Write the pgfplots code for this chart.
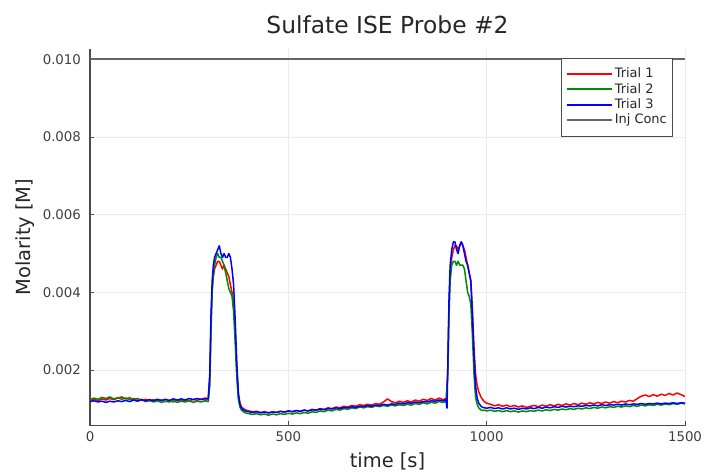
\documentclass[border=0pt]{standalone}
\usepackage{pgfplots}
\pgfplotsset{compat=1.18}
\usepackage{fontspec}
\setmainfont{DejaVu Sans}
\definecolor{jred}{rgb}{1,0,0}
\definecolor{jgreen}{rgb}{0,0.55,0}
\definecolor{jblue}{rgb}{0,0,1}
\begin{document}
\begin{tikzpicture}
\useasboundingbox (0,0) rectangle (705bp,473bp);
\begin{axis}[
  at={(90bp,47.5bp)}, anchor=south west,
  scale only axis, width=595bp, height=377bp,
  xmin=0, xmax=1500, ymin=0.000575, ymax=0.010275,
  scaled y ticks=false, scaled x ticks=false,
  axis x line*=bottom, axis y line*=left,
  axis line style={-, draw=black!70, line width=1.2bp},
  xtick={0,500,1000,1500},
  ytick={0.002,0.004,0.006,0.008,0.010},
  yticklabels={0.002,0.004,0.006,0.008,0.010},
  xticklabels={0,500,1000,1500},
  tick align=inside, major tick length=4bp,
  tick style={draw=black!70, line width=0.8bp},
  grid=major, major grid style={draw=black!8, line width=0.8bp},
  /pgf/number format/assume math mode=true,
  tick label style={font=\fontsize{13.4}{15}\selectfont, text=black!75},
  yticklabel style={xshift=-5.5bp},
  xticklabel style={yshift=-3bp},
  title={Sulfate ISE Probe \#2},
  title style={at={(axis description cs:0.5,1)}, anchor=base, yshift=9bp,
    font=\fontsize{23.5}{26}\selectfont, text=black!85},
  xlabel={time [s]}, ylabel={Molarity [M]},
  label style={font=\fontsize{19.5}{22}\selectfont, text=black!85},
  xlabel style={at={(axis description cs:0.5,0)}, anchor=base, yshift=-42bp},
  ylabel style={at={(axis description cs:-0.1008,0.5)}, anchor=base, rotate=0},
  legend style={at={(axis description cs:0.9798,0.9748)}, anchor=north east,
    draw=black!70, line width=0.9bp,
    font=\fontsize{13}{15}\selectfont\color{black!85}, inner xsep=4.5bp, inner ysep=8bp,
    nodes={inner sep=1.2bp, text height=10bp, text depth=3bp},
    row sep=0bp, column sep=1bp},
  legend cell align=left,
  legend image code/.code={\draw[line width=2bp, #1] (0bp,0.3bp) -- (45bp,0.3bp);},
  every axis plot/.append style={line width=1.5bp, line join=round},
]
\addplot[jred] coordinates {
(0,0.00122)(10,0.00125)(20,0.00121)(30,0.00126)(40,0.00123)(50,0.00127)(60,0.00124)(70,0.00128)(80,0.00131)(90,0.00126)
(100,0.00129)(110,0.00124)(120,0.00127)(130,0.00122)(140,0.00125)(150,0.00121)(160,0.00124)(170,0.00120)(180,0.00123)(190,0.00119)
(200,0.00122)(210,0.00118)(220,0.00123)(230,0.00120)(240,0.00124)(250,0.00121)(260,0.00125)(270,0.00122)(280,0.00126)(290,0.00123)(298,0.00125)
(302,0.00180)(305,0.0032)(308,0.0041)(311,0.0044)(314,0.0046)(318,0.0047)(322,0.0048)(326,0.0048)(330,0.0047)(334,0.0046)(338,0.0047)
(342,0.0046)(346,0.0045)(350,0.0044)(354,0.0042)(358,0.0040)(362,0.0037)(366,0.0030)(370,0.0021)(374,0.0014)(378,0.00115)(382,0.00105)(388,0.00100)(394,0.00097)
(400,0.00095)(410,0.00093)(420,0.00094)(430,0.00091)(440,0.00093)(450,0.00090)(460,0.00093)(470,0.00091)(480,0.00094)(490,0.00092)
(500,0.00095)(510,0.00093)(520,0.00096)(530,0.00094)(540,0.00097)(550,0.00095)(560,0.00099)(570,0.00097)(580,0.00101)(590,0.00099)
(600,0.00103)(610,0.00101)(620,0.00105)(630,0.00103)(640,0.00107)(650,0.00105)(660,0.00109)(670,0.00107)(680,0.00111)(690,0.00109)
(700,0.00112)(710,0.00110)(720,0.00114)(730,0.00112)(740,0.00118)(750,0.00126)(760,0.00119)(770,0.00116)(780,0.00120)(790,0.00117)
(800,0.00121)(810,0.00118)(820,0.00123)(830,0.00120)(840,0.00125)(850,0.00122)(860,0.00127)(870,0.00123)(880,0.00128)(890,0.00124)(898,0.00127)
(902,0.0020)(905,0.0036)(908,0.0045)(912,0.0049)(916,0.0051)(920,0.0052)(924,0.0052)(928,0.0051)(932,0.0052)(936,0.0053)(940,0.0052)
(944,0.0051)(948,0.0049)(952,0.0047)(956,0.0045)(960,0.0043)(964,0.0036)(968,0.0026)(972,0.0019)(976,0.0016)(980,0.00145)(985,0.00132)(990,0.00124)(995,0.00118)
(1000,0.00115)(1010,0.00112)(1020,0.00108)(1030,0.00111)(1040,0.00107)(1050,0.00110)(1060,0.00106)(1070,0.00109)(1080,0.00105)(1090,0.00108)
(1100,0.00104)(1110,0.00107)(1120,0.00109)(1130,0.00106)(1140,0.00110)(1150,0.00107)(1160,0.00111)(1170,0.00108)(1180,0.00112)(1190,0.00109)
(1200,0.00113)(1210,0.00110)(1220,0.00114)(1230,0.00111)(1240,0.00115)(1250,0.00112)(1260,0.00116)(1270,0.00113)(1280,0.00117)(1290,0.00114)
(1300,0.00118)(1310,0.00115)(1320,0.00119)(1330,0.00116)(1340,0.00120)(1350,0.00118)(1360,0.00122)(1370,0.00120)(1380,0.00127)(1390,0.00133)
(1400,0.00136)(1410,0.00132)(1420,0.00137)(1430,0.00133)(1440,0.00138)(1450,0.00135)(1460,0.00140)(1470,0.00136)(1480,0.00141)(1490,0.00137)(1500,0.00132)
};
\addlegendentry{Trial 1}
\addplot[jgreen] coordinates {
(0,0.00124)(10,0.00128)(20,0.00125)(30,0.00130)(40,0.00127)(50,0.00131)(60,0.00126)(70,0.00129)(80,0.00125)(90,0.00128)
(100,0.00124)(110,0.00127)(120,0.00122)(130,0.00125)(140,0.00119)(150,0.00122)(160,0.00118)(170,0.00121)(180,0.00117)(190,0.00120)
(200,0.00118)(210,0.00121)(220,0.00117)(230,0.00120)(240,0.00118)(250,0.00121)(260,0.00117)(270,0.00120)(280,0.00118)(290,0.00121)(298,0.00119)
(302,0.0016)(305,0.0030)(308,0.0040)(311,0.0045)(314,0.0047)(318,0.0049)(322,0.0050)(326,0.0049)(330,0.0049)(334,0.0048)(338,0.0047)
(342,0.0045)(346,0.0043)(350,0.0041)(354,0.0040)(358,0.0039)(362,0.0035)(366,0.0027)(370,0.0018)(374,0.00125)(378,0.00105)(382,0.00097)(388,0.00092)(394,0.00089)
(400,0.00088)(410,0.00086)(420,0.00088)(430,0.00085)(440,0.00087)(450,0.00084)(460,0.00087)(470,0.00085)(480,0.00088)(490,0.00086)
(500,0.00089)(510,0.00087)(520,0.00090)(530,0.00088)(540,0.00091)(550,0.00089)(560,0.00093)(570,0.00091)(580,0.00095)(590,0.00093)
(600,0.00097)(610,0.00095)(620,0.00099)(630,0.00097)(640,0.00101)(650,0.00099)(660,0.00103)(670,0.00101)(680,0.00105)(690,0.00103)
(700,0.00106)(710,0.00104)(720,0.00108)(730,0.00106)(740,0.00109)(750,0.00107)(760,0.00110)(770,0.00108)(780,0.00111)(790,0.00109)
(800,0.00112)(810,0.00110)(820,0.00114)(830,0.00112)(840,0.00116)(850,0.00113)(860,0.00117)(870,0.00115)(880,0.00119)(890,0.00117)(898,0.00119)
(902,0.0019)(905,0.0034)(908,0.0043)(912,0.0047)(916,0.0048)(920,0.0048)(924,0.0047)(928,0.0048)(932,0.0047)(936,0.0047)(940,0.0047)
(944,0.0046)(948,0.0043)(952,0.0040)(956,0.0039)(960,0.0037)(964,0.0029)(968,0.0019)(972,0.0013)(976,0.00112)(980,0.00103)(985,0.00098)(990,0.00096)(995,0.00097)
(1000,0.00095)(1010,0.00097)(1020,0.00094)(1030,0.00096)(1040,0.00093)(1050,0.00096)(1060,0.00093)(1070,0.00095)(1080,0.00092)(1090,0.00095)
(1100,0.00093)(1110,0.00096)(1120,0.00094)(1130,0.00097)(1140,0.00095)(1150,0.00098)(1160,0.00096)(1170,0.00099)(1180,0.00097)(1190,0.00100)
(1200,0.00098)(1210,0.00101)(1220,0.00099)(1230,0.00102)(1240,0.00100)(1250,0.00103)(1260,0.00101)(1270,0.00104)(1280,0.00102)(1290,0.00105)
(1300,0.00103)(1310,0.00106)(1320,0.00104)(1330,0.00107)(1340,0.00105)(1350,0.00108)(1360,0.00106)(1370,0.00109)(1380,0.00107)(1390,0.00110)
(1400,0.00108)(1410,0.00111)(1420,0.00109)(1430,0.00112)(1440,0.00110)(1450,0.00113)(1460,0.00111)(1470,0.00114)(1480,0.00112)(1490,0.00115)(1500,0.00113)
};
\addlegendentry{Trial 2}
\addplot[jblue] coordinates {
(0,0.00119)(10,0.00121)(20,0.00118)(30,0.00120)(40,0.00117)(50,0.00120)(60,0.00118)(70,0.00121)(80,0.00119)(90,0.00122)
(100,0.00119)(110,0.00123)(120,0.00120)(130,0.00124)(140,0.00121)(150,0.00124)(160,0.00121)(170,0.00125)(180,0.00122)(190,0.00125)
(200,0.00122)(210,0.00126)(220,0.00123)(230,0.00126)(240,0.00123)(250,0.00127)(260,0.00124)(270,0.00127)(280,0.00124)(290,0.00128)(298,0.00126)
(302,0.0019)(305,0.0034)(308,0.0043)(311,0.0047)(314,0.0049)(318,0.0050)(322,0.0051)(326,0.0052)(330,0.0050)(334,0.0049)(338,0.0050)
(342,0.0049)(346,0.0049)(350,0.0050)(354,0.0049)(358,0.0046)(362,0.0042)(366,0.0033)(370,0.0022)(374,0.0014)(378,0.00112)(382,0.00102)(388,0.00097)(394,0.00094)
(400,0.00093)(410,0.00091)(420,0.00093)(430,0.00090)(440,0.00092)(450,0.00090)(460,0.00092)(470,0.00091)(480,0.00094)(490,0.00092)
(500,0.00095)(510,0.00093)(520,0.00096)(530,0.00094)(540,0.00097)(550,0.00095)(560,0.00098)(570,0.00097)(580,0.00100)(590,0.00098)
(600,0.00101)(610,0.00100)(620,0.00103)(630,0.00101)(640,0.00104)(650,0.00103)(660,0.00106)(670,0.00104)(680,0.00107)(690,0.00106)
(700,0.00109)(710,0.00107)(720,0.00110)(730,0.00109)(740,0.00112)(750,0.00110)(760,0.00113)(770,0.00112)(780,0.00115)(790,0.00113)
(800,0.00116)(810,0.00115)(820,0.00118)(830,0.00116)(840,0.00119)(850,0.00118)(860,0.00121)(870,0.00120)(880,0.00123)(890,0.00121)(897,0.00124)(900,0.00102)
(902,0.0021)(905,0.0038)(908,0.0047)(912,0.0051)(916,0.0053)(920,0.0053)(924,0.0051)(928,0.0050)(932,0.0052)(936,0.0053)(940,0.0052)
(944,0.0050)(948,0.0048)(952,0.0047)(956,0.0045)(960,0.0043)(964,0.0034)(968,0.0024)(972,0.0016)(976,0.00128)(980,0.00115)(985,0.00108)(990,0.00104)(995,0.00103)
(1000,0.00102)(1010,0.00104)(1020,0.00101)(1030,0.00103)(1040,0.00100)(1050,0.00103)(1060,0.00100)(1070,0.00102)(1080,0.00099)(1090,0.00102)
(1100,0.00100)(1110,0.00103)(1120,0.00101)(1130,0.00104)(1140,0.00102)(1150,0.00105)(1160,0.00103)(1170,0.00106)(1180,0.00104)(1190,0.00107)
(1200,0.00105)(1210,0.00107)(1220,0.00106)(1230,0.00108)(1240,0.00107)(1250,0.00109)(1260,0.00108)(1270,0.00110)(1280,0.00108)(1290,0.00111)
(1300,0.00109)(1310,0.00111)(1320,0.00110)(1330,0.00112)(1340,0.00110)(1350,0.00113)(1360,0.00111)(1370,0.00113)(1380,0.00112)(1390,0.00114)
(1400,0.00112)(1410,0.00114)(1420,0.00113)(1430,0.00115)(1440,0.00113)(1450,0.00115)(1460,0.00114)(1470,0.00116)(1480,0.00114)(1490,0.00116)(1500,0.00115)
};
\addlegendentry{Trial 3}
\addplot[black!60, line width=2.5bp] coordinates {(0,0.010)(1500,0.010)};
\addlegendentry{Inj Conc}
\end{axis}
\end{tikzpicture}
\end{document}
